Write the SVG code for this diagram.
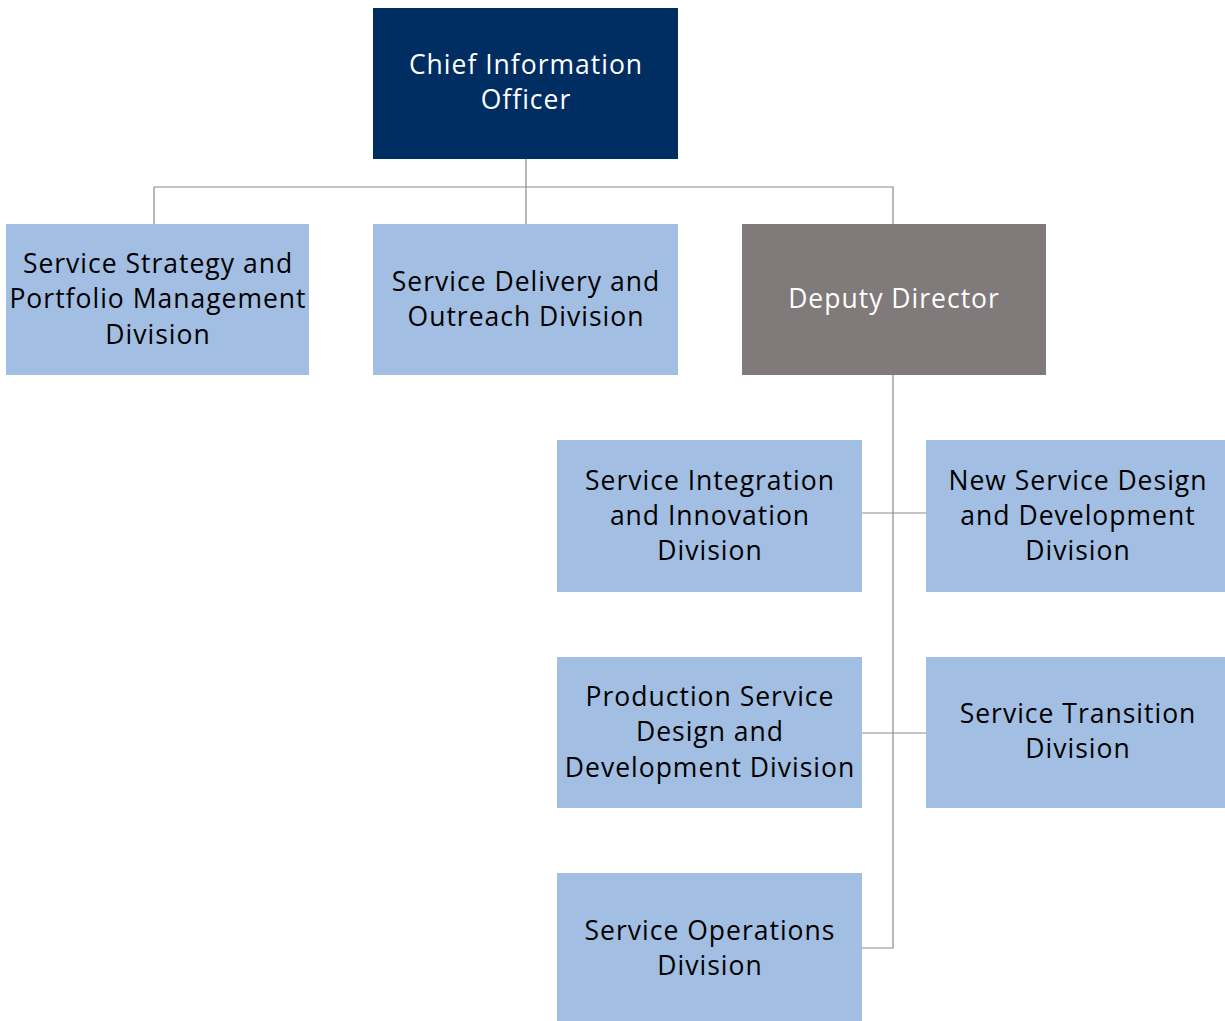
<svg xmlns="http://www.w3.org/2000/svg" width="1225" height="1021" viewBox="0 0 1225 1021">
<style>
.box{fill:#a2bee2}
.t{font-family:"Open Sans","Liberation Sans",sans-serif;font-size:26.5px;letter-spacing:1px;text-anchor:middle;fill:#000}
.w{fill:#fff}
.c{stroke:#8a8a8a;stroke-width:1.2;fill:none}
</style>
<rect width="1225" height="1021" fill="#fff"/>
<g id="connectors">
<path class="c" d="M526 159V224M154 187H893V224M154 187V224"/>
<path class="c" d="M893 375V948H862M862 513H926M862 733H926"/>
</g>
<g id="cio">
<rect x="373" y="8" width="305" height="151" fill="#002d62"/>
<text class="t w" x="526" y="74">Chief Information</text>
<text class="t w" x="526" y="109">Officer</text>
</g>
<g id="sspm">
<rect class="box" x="6" y="224" width="303" height="151"/>
<text class="t" x="158" y="273">Service Strategy and</text>
<text class="t" x="158" y="308">Portfolio Management</text>
<text class="t" x="158" y="344">Division</text>
</g>
<g id="sdo">
<rect class="box" x="373" y="224" width="305" height="151"/>
<text class="t" x="526" y="291">Service Delivery and</text>
<text class="t" x="526" y="326">Outreach Division</text>
</g>
<g id="deputy">
<rect x="742" y="224" width="304" height="151" fill="#807a7a"/>
<text class="t w" x="894" y="308">Deputy Director</text>
</g>
<g id="sii">
<rect class="box" x="557" y="440" width="305" height="152"/>
<text class="t" x="710" y="490">Service Integration</text>
<text class="t" x="710" y="525">and Innovation</text>
<text class="t" x="710" y="560">Division</text>
</g>
<g id="nsdd">
<rect class="box" x="926" y="440" width="299" height="152"/>
<text class="t" x="1078" y="490">New Service Design</text>
<text class="t" x="1078" y="525">and Development</text>
<text class="t" x="1078" y="560">Division</text>
</g>
<g id="psdd">
<rect class="box" x="557" y="657" width="305" height="151"/>
<text class="t" x="710" y="706">Production Service</text>
<text class="t" x="710" y="741">Design and</text>
<text class="t" x="710" y="777">Development Division</text>
</g>
<g id="st">
<rect class="box" x="926" y="657" width="299" height="151"/>
<text class="t" x="1078" y="723">Service Transition</text>
<text class="t" x="1078" y="758">Division</text>
</g>
<g id="so">
<rect class="box" x="557" y="873" width="305" height="148"/>
<text class="t" x="710" y="940">Service Operations</text>
<text class="t" x="710" y="975">Division</text>
</g>
</svg>
